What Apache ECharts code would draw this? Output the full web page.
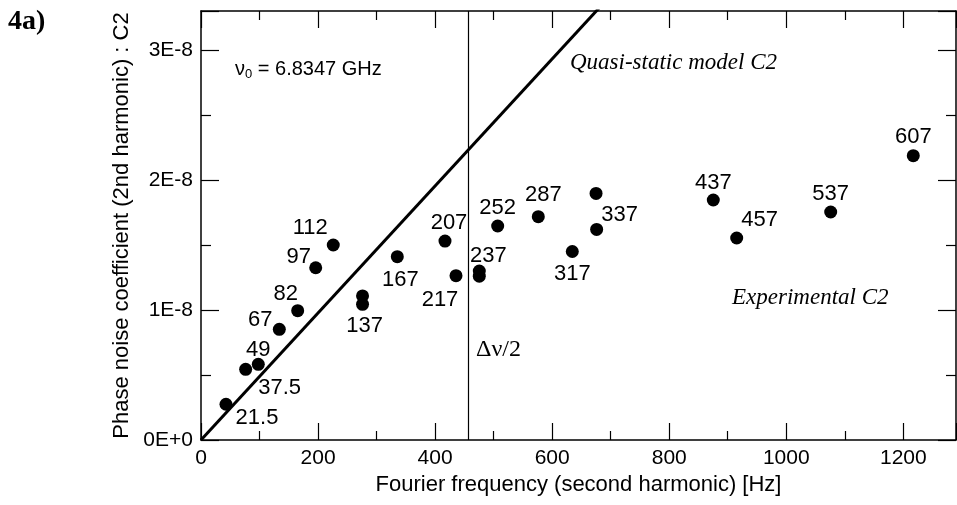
<!DOCTYPE html>
<html>
<head>
<meta charset="utf-8">
<script src="https://cdn.jsdelivr.net/npm/echarts@6/dist/echarts.min.js"></script>
<style>
  html, body { margin: 0; padding: 0; background: #fff; }
  #chart { width: 957px; height: 505px; }
</style>
</head>
<body>
<div id="chart"></div>
<script>
// fourier frequency (Hz) and C2 in units of 1E-8
var freq = [42.7, 76.3, 97.9, 133.8, 165.2, 196, 226, 276, 276, 335.4, 416.9, 435.7,
  475.5, 475.5, 506.9, 576.3, 634.4, 675, 676, 875.3, 915.3, 1075.9, 1217];
var c2 = [0.275, 0.544, 0.582, 0.851, 0.995, 1.325, 1.50, 1.108, 1.044, 1.41, 1.53, 1.264,
  1.30, 1.26, 1.646, 1.718, 1.45, 1.897, 1.62, 1.846, 1.554, 1.754, 2.187];
var pointLabels = ["21.5", "37.5", "49", "67", "82", "97", "112", "", "137", "167", "207", "217",
  "237", "", "252", "287", "317", "", "337", "437", "457", "537", "607"];
// quasi-static model line end points
var modelFreq = [0, 700];
var modelC2 = [0, 3.42];
var halfLinewidth = 456; // Δν/2
var yTicks = ["0E+0", "1E-8", "2E-8", "3E-8"];

// label placement relative to each dot (px)
var labelOffsets = [[31, 14], [34, 19], [0, -14], [-19, -9], [-12, -17], [-17, -11], [-23, -17], [0, 0],
  [2, 22], [3, 23], [4, -18], [-16, 24], [9, -15], [0, 0], [0, -18], [5, -22], [0, 22], [0, 0],
  [23, -14], [0, -17], [23, -18], [0, -18], [0, -19]];

var chart = echarts.init(document.getElementById("chart"));
var font = "Liberation Sans, Arial, sans-serif";
var serif = "Liberation Serif, Times New Roman, serif";

var points = [];
for (var i = 0; i < freq.length; i++) {
  points.push({
    value: [freq[i], c2[i]],
    label: {
      show: pointLabels[i] !== "",
      formatter: pointLabels[i],
      position: "inside",
      offset: labelOffsets[i],
      color: "#000",
      fontFamily: font,
      fontSize: 22
    }
  });
}
var modelData = [];
for (var j = 0; j < modelFreq.length; j++) {
  modelData.push([modelFreq[j], modelC2[j]]);
}

function xAxisOf(pos, showLabel) {
  return {
    type: "value",
    position: pos,
    min: 0,
    max: 1290,
    interval: 200,
    axisLine: { show: true, onZero: false, lineStyle: { color: "#000", width: 1.5 } },
    axisTick: { show: true, inside: true, length: 17, lineStyle: { color: "#000", width: 1.2 } },
    minorTick: { show: true, splitNumber: 2, length: 9, lineStyle: { color: "#000", width: 1.2 } },
    splitLine: { show: false },
    axisLabel: {
      show: showLabel,
      color: "#000",
      fontFamily: font,
      fontSize: 21,
      margin: 8,
      showMaxLabel: false,
      formatter: function (v) { return String(v); }
    },
    name: showLabel ? "Fourier frequency (second harmonic) [Hz]" : "",
    nameLocation: "middle",
    nameGap: 30,
    nameTextStyle: { color: "#000", fontFamily: font, fontSize: 22 }
  };
}
function yAxisOf(pos, showLabel) {
  return {
    type: "value",
    position: pos,
    min: 0,
    max: 3.3,
    interval: 1,
    axisLine: { show: true, onZero: false, lineStyle: { color: "#000", width: 1.5 } },
    axisTick: { show: true, inside: true, length: 18, lineStyle: { color: "#000", width: 1.2 } },
    minorTick: { show: true, splitNumber: 2, length: 10, lineStyle: { color: "#000", width: 1.2 } },
    splitLine: { show: false },
    axisLabel: {
      show: showLabel,
      color: "#000",
      fontFamily: font,
      fontSize: 21,
      margin: 8,
      showMaxLabel: false,
      formatter: function (v) { return yTicks[Math.round(v)] || ""; }
    },
    name: showLabel ? "Phase noise coefficient (2nd harmonic) : C2" : "",
    nameLocation: "middle",
    nameGap: 51,
    nameTextStyle: { color: "#000", fontFamily: font, fontSize: 22 }
  };
}

var option = {
  animation: false,
  backgroundColor: "#fff",
  grid: { left: 201, right: 1, top: 11, bottom: 65 },
  xAxis: [xAxisOf("bottom", true), xAxisOf("top", false)],
  yAxis: [yAxisOf("left", true), yAxisOf("right", false)],
  graphic: [
    {
      type: "text", left: 8, top: 8,
      style: { text: "4a)", font: "bold 28px " + serif, fill: "#000" }
    },
    {
      type: "text", left: 235, top: 59,
      style: {
        text: "{a|ν}{s|0}{a| = 6.8347 GHz}",
        fill: "#000",
        rich: {
          a: { fontFamily: font, fontSize: 20, fill: "#000" },
          s: { fontFamily: font, fontSize: 13, fill: "#000", padding: [11, 0, 0, 0] }
        }
      }
    },
    {
      type: "text", left: 570, top: 51,
      style: { text: "Quasi-static model C2", font: "italic 23px " + serif, fill: "#000" }
    },
    {
      type: "text", left: 732, top: 286,
      style: { text: "Experimental C2", font: "italic 23px " + serif, fill: "#000" }
    },
    {
      type: "text", left: 476, top: 338,
      style: { text: "Δν/2", font: "24px " + serif, fill: "#000" }
    }
  ],
  series: [
    {
      type: "line",
      data: modelData,
      showSymbol: false,
      clip: true,
      lineStyle: { color: "#000", width: 3 },
      markLine: {
        silent: true,
        symbol: "none",
        label: { show: false },
        lineStyle: { color: "#000", width: 1.2, type: "solid" },
        data: [{ xAxis: halfLinewidth }]
      }
    },
    {
      type: "scatter",
      data: points,
      symbol: "circle",
      symbolSize: 13,
      itemStyle: { color: "#000", opacity: 1 }
    }
  ]
};
chart.setOption(option);
</script>
</body>
</html>
